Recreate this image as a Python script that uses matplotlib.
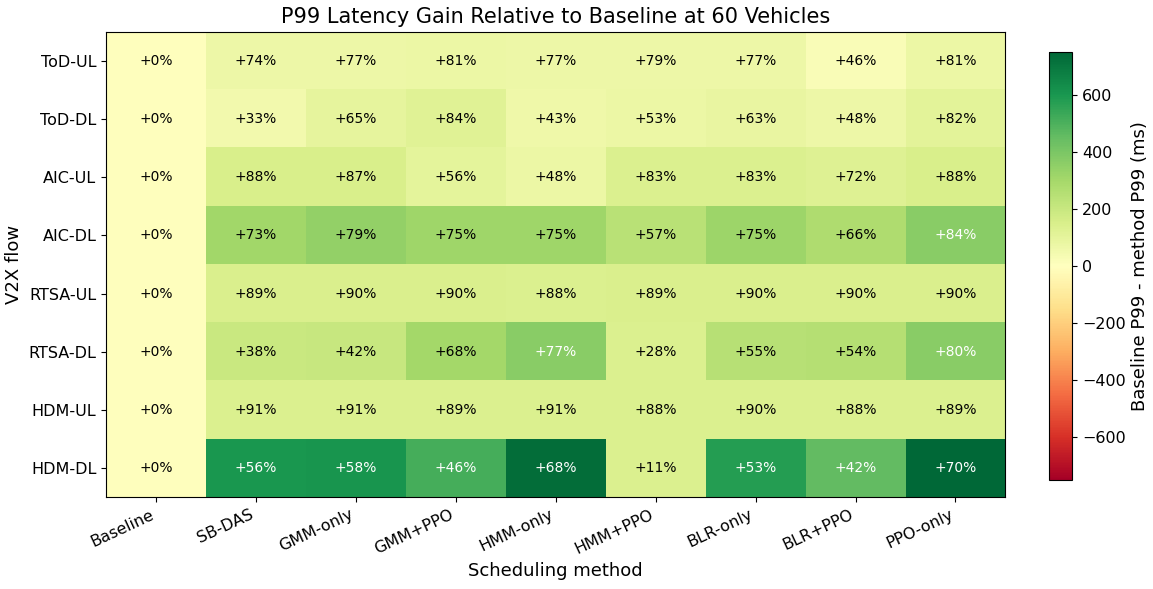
import numpy as np
import matplotlib
matplotlib.use("Agg")
import matplotlib.pyplot as plt

methods = ['Baseline', 'SB-DAS', 'GMM-only', 'GMM+PPO', 'HMM-only', 'HMM+PPO', 'BLR-only', 'BLR+PPO', 'PPO-only']
flows = ['ToD-UL', 'ToD-DL', 'AIC-UL', 'AIC-DL', 'RTSA-UL', 'RTSA-DL', 'HDM-UL', 'HDM-DL']

# baseline P99 minus method P99 (ms)
gain_ms = np.array([
    [0, 65, 70, 72, 68, 70, 68, 22, 72],
    [0, 50, 95, 120, 60, 75, 85, 65, 110],
    [0, 150, 150, 100, 75, 140, 140, 125, 150],
    [0, 310, 340, 315, 315, 245, 320, 275, 365],
    [0, 145, 145, 145, 140, 145, 145, 145, 145],
    [0, 195, 200, 300, 368, 140, 250, 255, 368],
    [0, 140, 140, 140, 140, 140, 140, 140, 140],
    [0, 600, 605, 510, 730, 140, 575, 455, 750],
])

# relative gain (%) printed in each cell
gain_pct = np.array([
    [0, 74, 77, 81, 77, 79, 77, 46, 81],
    [0, 33, 65, 84, 43, 53, 63, 48, 82],
    [0, 88, 87, 56, 48, 83, 83, 72, 88],
    [0, 73, 79, 75, 75, 57, 75, 66, 84],
    [0, 89, 90, 90, 88, 89, 90, 90, 90],
    [0, 38, 42, 68, 77, 28, 55, 54, 80],
    [0, 91, 91, 89, 91, 88, 90, 88, 89],
    [0, 56, 58, 46, 68, 11, 53, 42, 70],
])

vmax = np.abs(gain_ms).max()

fig = plt.figure(figsize=(11.53, 5.89), dpi=100)
ax = fig.add_axes([0.092, 0.156, 0.780, 0.79])
cax = fig.add_axes([0.910, 0.185, 0.020, 0.727])

im = ax.imshow(gain_ms, cmap='RdYlGn', vmin=-vmax, vmax=vmax, aspect='auto')

for i in range(len(flows)):
    for j in range(len(methods)):
        col = 'white' if abs(gain_ms[i, j]) > 0.47 * vmax else 'black'
        ax.text(j, i, f'+{gain_pct[i, j]}%', ha='center', va='center', fontsize=10, color=col)

ax.set_xticks(range(len(methods)))
ax.set_xticklabels(methods, rotation=25, ha='right', fontsize=11.5)
ax.set_yticks(range(len(flows)))
ax.set_yticklabels(flows, fontsize=11.5)
ax.set_xlabel('Scheduling method', fontsize=13)
ax.set_ylabel('V2X flow', fontsize=13)
ax.set_title('P99 Latency Gain Relative to Baseline at 60 Vehicles', fontsize=15)

cb = fig.colorbar(im, cax=cax)
cb.set_label('Baseline P99 - method P99 (ms)', fontsize=13)
cb.ax.tick_params(labelsize=11.5)

fig.savefig('out.png', dpi=100)
